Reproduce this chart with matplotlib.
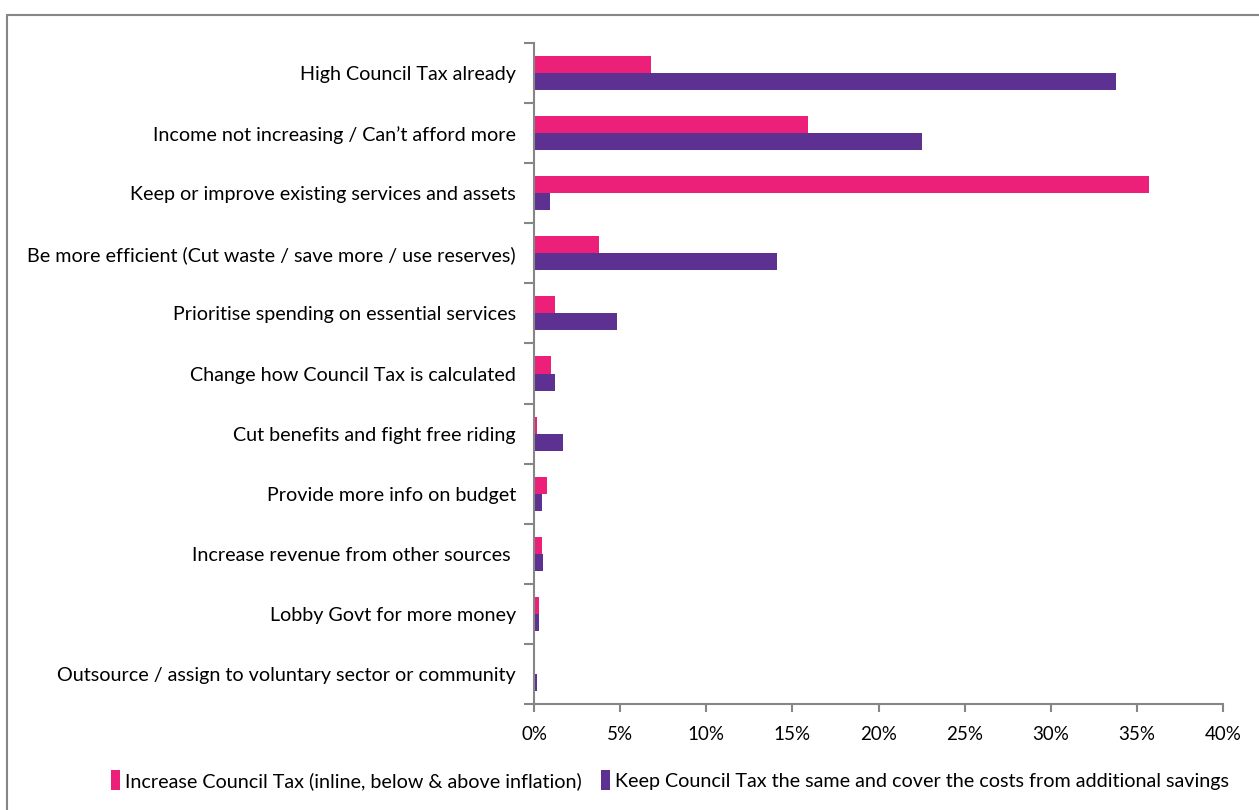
import matplotlib.pyplot as plt
from matplotlib.patches import Rectangle, Patch
import numpy as np

plt.rcParams['font.family'] = ['Lato', 'DejaVu Sans']

categories = [
    "High Council Tax already",
    "Income not increasing / Can\u2019t afford more",
    "Keep or improve existing services and assets",
    "Be more efficient (Cut waste / save more / use reserves)",
    "Prioritise spending on essential services",
    "Change how Council Tax is calculated",
    "Cut benefits and fight free riding",
    "Provide more info on budget",
    "Increase revenue from other sources ",
    "Lobby Govt for more money",
    "Outsource / assign to voluntary sector or community",
]
increase_tax = [6.8, 15.9, 35.7, 3.8, 1.2, 1.0, 0.2, 0.75, 0.45, 0.3, 0.05]
keep_same = [33.8, 22.5, 0.9, 14.1, 4.8, 1.2, 1.7, 0.45, 0.5, 0.3, 0.2]

series_names = [
    "Increase Council Tax (inline, below & above inflation)",
    "Keep Council Tax the same and cover the costs from additional savings",
]
pink = "#EC2079"
purple = "#5C3192"
axis_grey = "#868686"

fig = plt.figure(figsize=(12.59, 8.10), dpi=100)
ax = fig.add_axes([534 / 1259, 1 - 704 / 810, (1223 - 534) / 1259, (704 - 43) / 810])

y = np.arange(len(categories))
h = 0.283
ax.barh(y - h / 2, increase_tax, height=h, color=pink, label=series_names[0])
ax.barh(y + h / 2, keep_same, height=h, color=purple, label=series_names[1])

ax.set_ylim(len(categories) - 0.5, -0.5)
ax.set_xlim(0, 40)

# category boundaries get the tick marks, labels sit at the centres
ax.set_yticks(np.arange(-0.5, len(categories), 1.0))
ax.set_yticklabels([])
ax.set_yticks(y, minor=True)
ax.set_yticklabels(categories, minor=True, fontsize=14.2)
ax.tick_params(axis="y", which="minor", length=0, pad=13)
ax.tick_params(axis="y", which="major", length=7, width=1.5, color=axis_grey)

ax.set_xticks(np.arange(0, 41, 5))
ax.set_xticklabels([f"{v}%" for v in range(0, 41, 5)], fontsize=13.5)
ax.tick_params(axis="x", length=6, width=1.5, color=axis_grey, pad=10)

for side in ["top", "right"]:
    ax.spines[side].set_visible(False)
for side in ["left", "bottom"]:
    ax.spines[side].set_color(axis_grey)
    ax.spines[side].set_linewidth(1.5)

handles = [Patch(facecolor=pink), Patch(facecolor=purple)]
fig.legend(handles, series_names, loc="center", bbox_to_anchor=(0.532, 1 - 780 / 810),
           ncol=2, frameon=False, fontsize=14.2, handlelength=0.45, handleheight=1.2,
           handletextpad=0.25, columnspacing=1.0)

# outer chart border
fig.patches.append(Rectangle((7 / 1259, -0.01), 1.0, 1 - 15 / 810 + 0.01,
                             transform=fig.transFigure, fill=False,
                             edgecolor=axis_grey, linewidth=1.5))

fig.savefig("out.png", dpi=100)
